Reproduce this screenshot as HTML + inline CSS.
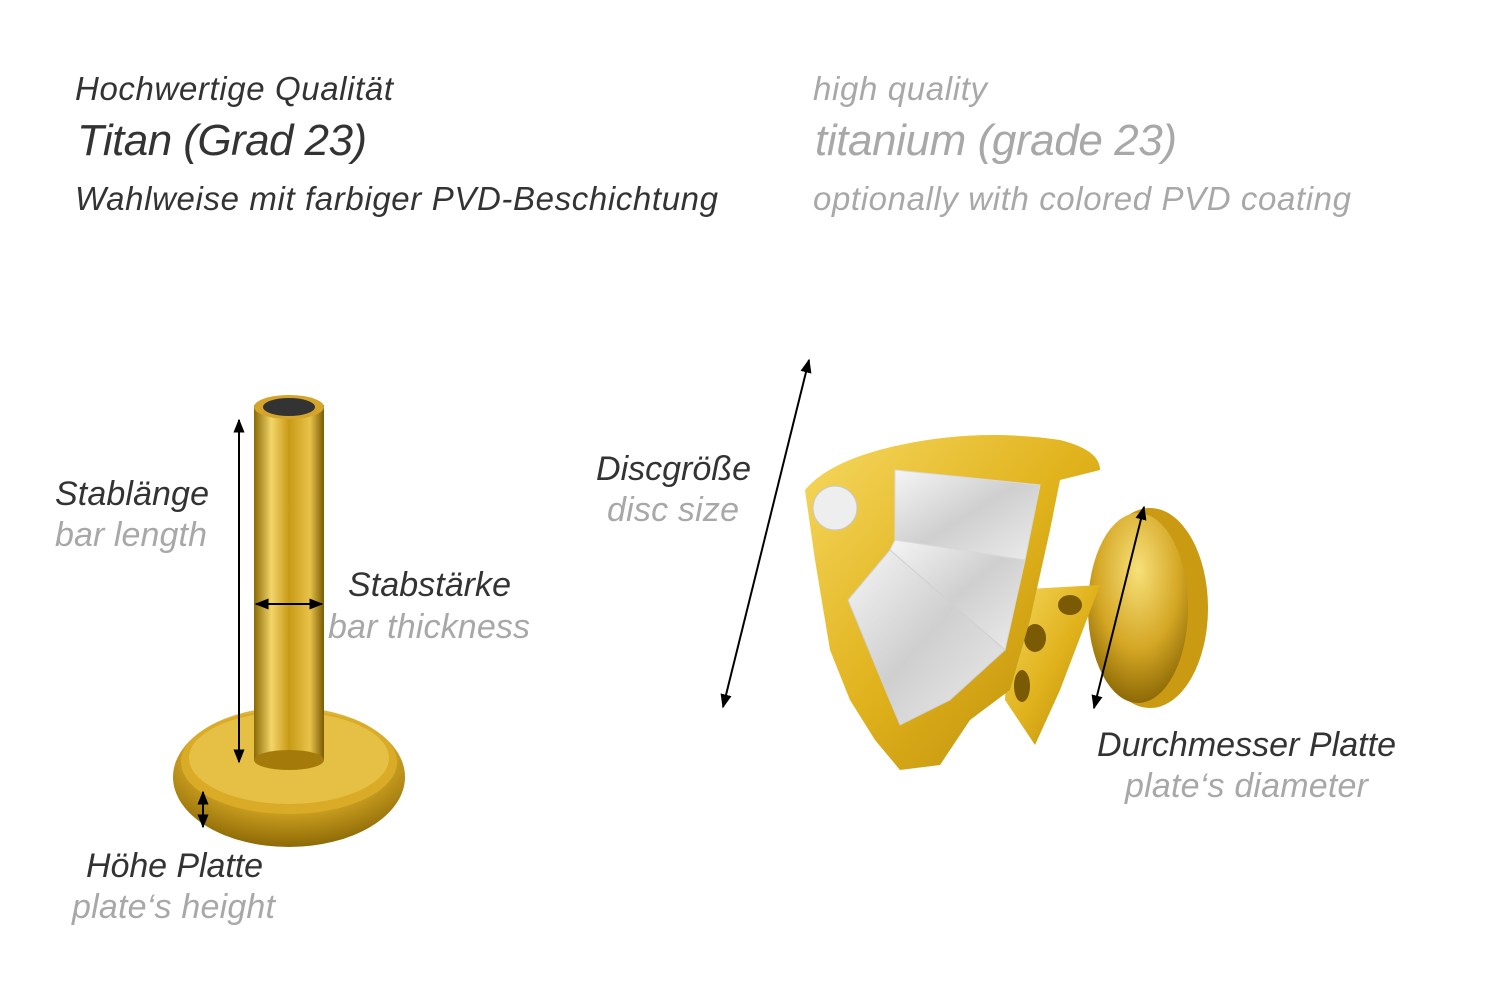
<!DOCTYPE html>
<html><head><meta charset="utf-8"><style>
html,body{margin:0;padding:0;background:#fff;}
svg{display:block}
text{font-family:"Liberation Sans",Arial,sans-serif;font-style:italic;}
.d{fill:#333}.g{fill:#a8a8a8}
</style></head><body>
<svg width="1500" height="1001" viewBox="0 0 1500 1001" xmlns="http://www.w3.org/2000/svg">
<defs>
<linearGradient id="bar" x1="0" x2="1"><stop offset="0" stop-color="#8a6a05"/><stop offset=".25" stop-color="#f3d56a"/><stop offset=".5" stop-color="#c89a16"/><stop offset=".8" stop-color="#e8c24a"/><stop offset="1" stop-color="#7a5a03"/></linearGradient>
<radialGradient id="plate" cx=".5" cy=".3" r=".7"><stop offset="0" stop-color="#f7e07a"/><stop offset=".6" stop-color="#d4a624"/><stop offset="1" stop-color="#8d6a06"/></radialGradient>
<linearGradient id="gold" x1="0" y1="0" x2="1" y2="1"><stop offset="0" stop-color="#f6d860"/><stop offset=".5" stop-color="#e0b21c"/><stop offset="1" stop-color="#b58708"/></linearGradient>
<linearGradient id="gem" x1="0" y1="0" x2="1" y2="1"><stop offset="0" stop-color="#f5f5f5"/><stop offset=".5" stop-color="#cfcfcf"/><stop offset="1" stop-color="#ececec"/></linearGradient>
<marker id="a" viewBox="0 0 10 10" refX="9" refY="5" markerWidth="7" markerHeight="7" orient="auto-start-reverse"><path d="M0,1 L10,5 L0,9 z" fill="#000"/></marker>
</defs>

<text x="75" y="100" font-size="33" class="d" textLength="318">Hochwertige Qualität</text>
<text x="77" y="155" font-size="44" class="d" textLength="290">Titan (Grad 23)</text>
<text x="75" y="210" font-size="33" class="d" textLength="643">Wahlweise mit farbiger PVD-Beschichtung</text>
<text x="813" y="100" font-size="33" class="g" textLength="174">high quality</text>
<text x="815" y="155" font-size="44" class="g" textLength="362">titanium (grade 23)</text>
<text x="813" y="210" font-size="33" class="g" textLength="538">optionally with colored PVD coating</text>

<ellipse cx="289" cy="777" rx="116" ry="70" fill="url(#plate)"/>
<ellipse cx="289" cy="762" rx="108" ry="52" fill="#d9ab26"/>
<ellipse cx="289" cy="758" rx="100" ry="46" fill="#e6bf45"/>
<rect x="254" y="405" width="70" height="355" fill="url(#bar)"/>
<ellipse cx="289" cy="760" rx="35" ry="10" fill="#a47a0a"/>
<ellipse cx="289" cy="407" rx="35" ry="12" fill="#d4a52a"/>
<ellipse cx="289" cy="407" rx="26" ry="9" fill="#333"/>

<line x1="239" y1="420" x2="239" y2="762" stroke="#000" stroke-width="2" marker-start="url(#a)" marker-end="url(#a)"/>
<line x1="256" y1="604" x2="322" y2="604" stroke="#000" stroke-width="2" marker-start="url(#a)" marker-end="url(#a)"/>
<line x1="203" y1="792" x2="203" y2="827" stroke="#000" stroke-width="2" marker-start="url(#a)" marker-end="url(#a)"/>

<text x="55" y="505" font-size="34" class="d" textLength="154">Stablänge</text>
<text x="55" y="546" font-size="34" class="g" textLength="152">bar length</text>
<text x="348" y="596" font-size="34" class="d" textLength="163">Stabstärke</text>
<text x="328" y="638" font-size="34" class="g" textLength="202">bar thickness</text>
<text x="86" y="877" font-size="34" class="d" textLength="177">Höhe Platte</text>
<text x="72" y="918" font-size="34" class="g" textLength="203">plate‘s height</text>

<ellipse cx="1150" cy="608" rx="58" ry="100" fill="#c99a12"/>
<ellipse cx="1138" cy="608" rx="50" ry="95" fill="url(#plate)"/>
<path d="M1010,590 L1100,585 L1060,690 L1035,745 L1005,700 Z" fill="url(#gold)"/>
<ellipse cx="1070" cy="605" rx="12" ry="10" fill="#7a5a05"/>
<ellipse cx="1035" cy="638" rx="11" ry="14" fill="#7a5a05"/>
<ellipse cx="1022" cy="686" rx="8" ry="16" fill="#7a5a05"/>
<path d="M805,490 Q830,460 900,445 Q980,428 1060,440 Q1100,450 1100,470 L1060,480 L1050,530 L1030,620 L1010,690 L970,720 L940,765 L900,770 L875,740 L850,700 L830,650 L815,560 Z" fill="url(#gold)"/>
<path d="M895,470 L1040,485 L1025,560 L895,540 Z" fill="url(#gem)" stroke="#d9d9d9"/>
<path d="M895,540 L1025,560 L1005,650 L890,550 Z" fill="url(#gem)" stroke="#d9d9d9"/>
<path d="M848,600 L890,550 L1005,650 L950,700 L900,725 Z" fill="url(#gem)" stroke="#d0d0d0"/>
<circle cx="835" cy="508" r="22" fill="#eeeeee" stroke="#c8c8c8"/>

<line x1="809" y1="360" x2="723" y2="707" stroke="#000" stroke-width="2" marker-start="url(#a)" marker-end="url(#a)"/>
<line x1="1144" y1="507" x2="1094" y2="708" stroke="#000" stroke-width="2" marker-start="url(#a)" marker-end="url(#a)"/>

<text x="596" y="480" font-size="34" class="d" textLength="155">Discgröße</text>
<text x="607" y="521" font-size="34" class="g" textLength="132">disc size</text>
<text x="1097" y="756" font-size="34" class="d" textLength="299">Durchmesser Platte</text>
<text x="1125" y="797" font-size="34" class="g" textLength="243">plate‘s diameter</text>
</svg>
</body></html>
